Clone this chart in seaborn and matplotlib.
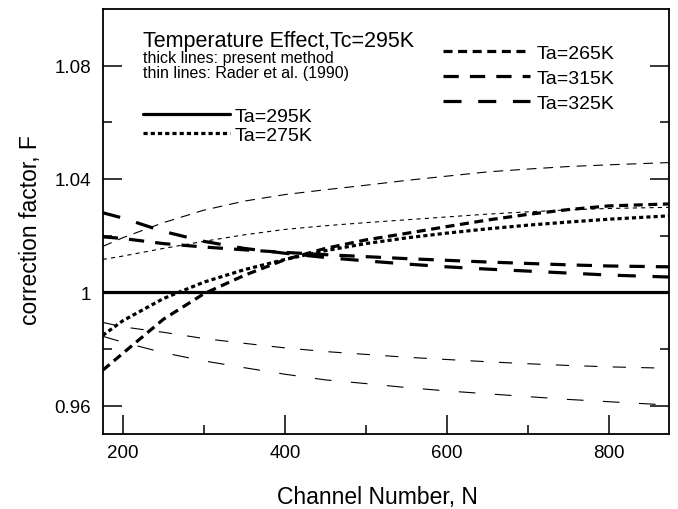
import numpy as np
import pandas as pd
import seaborn as sns
import matplotlib
matplotlib.use("Agg")
import matplotlib.pyplot as plt
from matplotlib.lines import Line2D
from matplotlib.ticker import FixedLocator

channels = [175, 200, 250, 300, 350, 400, 450, 500, 550, 600, 650, 700, 750, 800, 875]

# thick lines: present method
thick_295 = [1.0] * len(channels)
thick_275 = [0.9848, 0.9900, 0.9978, 1.0036, 1.0080, 1.0116, 1.0147, 1.0172,
             1.0192, 1.0209, 1.0224, 1.0237, 1.0248, 1.0258, 1.0270]
thick_265 = [0.9725, 0.9785, 0.9905, 0.9995, 1.0060, 1.0115, 1.0155, 1.0185,
             1.0208, 1.0232, 1.0255, 1.0275, 1.0292, 1.0305, 1.0312]
thick_315 = [1.0196, 1.0190, 1.0172, 1.0160, 1.0150, 1.0141, 1.0133, 1.0126,
             1.0119, 1.0113, 1.0107, 1.0102, 1.0097, 1.0093, 1.0090]
thick_325 = [1.0281, 1.0262, 1.0215, 1.0180, 1.0155, 1.0138, 1.0123, 1.0111,
             1.0100, 1.0090, 1.0082, 1.0075, 1.0068, 1.0061, 1.0054]

# thin lines: Rader et al. (1990)
thin_265 = [1.0162, 1.0193, 1.0246, 1.0290, 1.0322, 1.0345, 1.0362, 1.0378,
            1.0395, 1.0410, 1.0425, 1.0435, 1.0444, 1.0450, 1.0458]
thin_275 = [1.0116, 1.0128, 1.0155, 1.0180, 1.0203, 1.0222, 1.0235, 1.0246,
            1.0256, 1.0266, 1.0276, 1.0284, 1.0291, 1.0296, 1.0300]
thin_315 = [0.9894, 0.9878, 0.9859, 0.9837, 0.9820, 0.9804, 0.9791, 0.9781,
            0.9771, 0.9763, 0.9755, 0.9748, 0.9742, 0.9737, 0.9732]
thin_325 = [0.9845, 0.9824, 0.9787, 0.9758, 0.9734, 0.9711, 0.9691, 0.9678,
            0.9664, 0.9652, 0.9642, 0.9632, 0.9622, 0.9614, 0.9602]

x_ticks = [200, 400, 600, 800]
x_minor = [300, 500, 700]
y_ticks = [0.96, 1.0, 1.04, 1.08]
y_tick_labels = ["0.96", "1", "1.04", "1.08"]
y_minor = [0.98, 1.02, 1.06]

labels = ["Ta=295K", "Ta=275K", "Ta=265K", "Ta=315K", "Ta=325K"]

thick = pd.DataFrame({
    "N": channels * 5,
    "F": thick_295 + thick_275 + thick_265 + thick_315 + thick_325,
    "Ta": sum([[lab] * len(channels) for lab in labels], []),
})
thin = pd.DataFrame({
    "N": channels * 4,
    "F": thin_275 + thin_265 + thin_315 + thin_325,
    "Ta": sum([[lab] * len(channels) for lab in labels[1:]], []),
})

sns.set_theme(style="ticks")
plt.rcParams["font.family"] = ["Liberation Sans", "DejaVu Sans"]
plt.rcParams["lines.scale_dashes"] = False
plt.rcParams["axes.linewidth"] = 1.3
for key in ["text.color", "axes.labelcolor", "xtick.color", "ytick.color",
            "xtick.labelcolor", "ytick.labelcolor"]:
    plt.rcParams[key] = "black"

thick_dashes = {"Ta=295K": "", "Ta=275K": (3, 2.2), "Ta=265K": (6.5, 4),
                "Ta=315K": (11, 8), "Ta=325K": (13, 12)}
thin_dashes = {"Ta=275K": (3, 3), "Ta=265K": (7, 5),
               "Ta=315K": (9.5, 11), "Ta=325K": (12, 14)}

fig = plt.figure(figsize=(6.78, 5.10), dpi=100)
ax = fig.add_axes([102.7 / 678, 1 - 435 / 510, 566.6 / 678, 425 / 510])

sns.lineplot(data=thick, x="N", y="F", style="Ta", dashes=thick_dashes,
             color="black", linewidth=2.3, legend=False, ax=ax)
sns.lineplot(data=thin, x="N", y="F", style="Ta", dashes=thin_dashes,
             color="black", linewidth=0.8, legend=False, ax=ax)

ax.set_xlim(175, 875)
ax.set_ylim(0.95, 1.10)
ax.xaxis.set_major_locator(FixedLocator(x_ticks))
ax.xaxis.set_minor_locator(FixedLocator(x_minor))
ax.yaxis.set_major_locator(FixedLocator(y_ticks))
ax.yaxis.set_minor_locator(FixedLocator(y_minor))
ax.set_yticklabels(y_tick_labels)

ax.tick_params(which="major", direction="in", length=13.5, width=1.1,
               labelsize=13.5, color="black")
ax.tick_params(which="minor", direction="in", length=6.5, width=1.1, color="black")
ax.tick_params(axis="y", which="both", right=True, pad=8.5)
ax.tick_params(axis="x", which="both", top=False, pad=7)
for sp in ax.spines.values():
    sp.set_visible(True)
    sp.set_color("black")

ax.set_xlabel("Channel Number, N", fontsize=16.5)
ax.set_ylabel("correction factor, F", fontsize=16.5)
ax.xaxis.set_label_coords(0.485, -0.12)
ax.yaxis.set_label_coords(-0.107, 0.482)

ax.text(0.0711, 0.913, "Temperature Effect,Tc=295K", transform=ax.transAxes,
        fontsize=15.5, va="baseline")
ax.text(0.0711, 0.876, "thick lines: present method", transform=ax.transAxes,
        fontsize=11.5, va="baseline")
ax.text(0.0711, 0.8395, "thin lines: Rader et al. (1990)", transform=ax.transAxes,
        fontsize=11.5, va="baseline")

def handle(lab):
    d = thick_dashes[lab]
    if d == "":
        return Line2D([], [], color="black", lw=2.3, linestyle="-")
    return Line2D([], [], color="black", lw=2.3, dashes=d)

leg1 = ax.legend([handle(l) for l in labels[:2]], labels[:2],
                 loc="upper left", bbox_to_anchor=(0.0711, 0.768),
                 frameon=False, fontsize=14, handlelength=4.47,
                 handletextpad=0.25, labelspacing=0.07, borderpad=0,
                 borderaxespad=0)
ax.add_artist(leg1)
ax.legend([handle(l) for l in labels[2:]], labels[2:],
          loc="upper left", bbox_to_anchor=(0.6006, 0.9176),
          frameon=False, fontsize=14, handlelength=4.47,
          handletextpad=0.35, labelspacing=0.38, borderpad=0,
          borderaxespad=0)

fig.savefig("out.png", dpi=100, facecolor="white")
